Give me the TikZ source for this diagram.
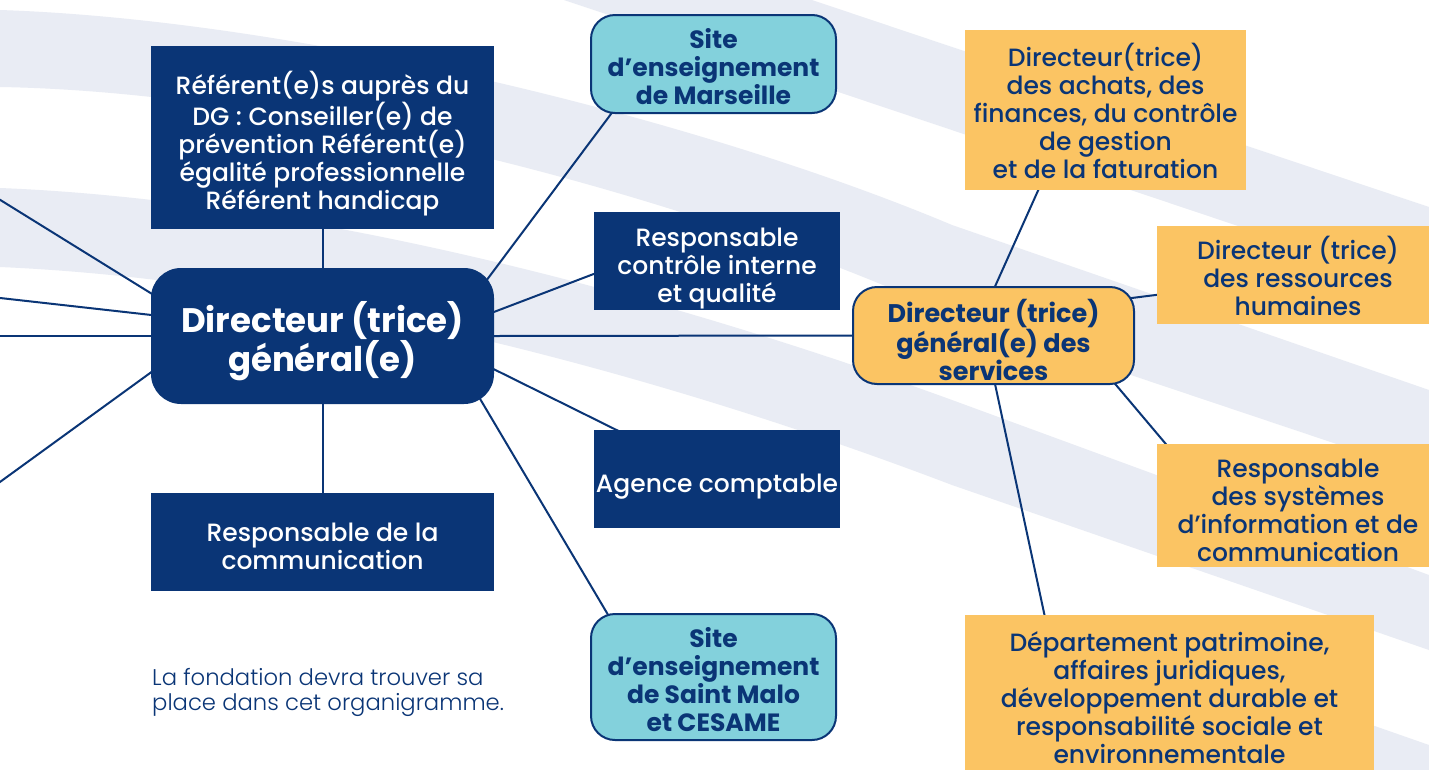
\documentclass[tikz,border=0pt]{standalone}
\usepackage{fontspec}
\setmainfont{Poppins}
\newfontfamily\lightfont{Poppins Light}
\newfontfamily\medfont{Poppins Medium}
\definecolor{dgnavy}{HTML}{0A3576}
\definecolor{sitecyan}{HTML}{83D1DC}
\definecolor{servorange}{HTML}{FBC463}
\definecolor{swoosh}{HTML}{E9ECF4}
\newcommand{\padtop}[1]{\rule{0pt}{#1}}
\pgfdeclarelayer{back}
\pgfsetlayers{back,main}
\tikzset{
	navybox/.style={fill=dgnavy,text=white,inner sep=0pt,align=center,font=\medfont\fontsize{25}{28}\selectfont},
	orangebox/.style={fill=servorange,text=dgnavy,inner sep=0pt,align=center,font=\medfont\fontsize{25}{28}\selectfont},
	sitebox/.style={draw=dgnavy,line width=2pt,fill=sitecyan,text=dgnavy,rounded corners=24pt,inner sep=0pt,align=center,font=\bfseries\fontsize{25}{28}\selectfont},
	link/.style={draw=dgnavy,line width=2pt,shorten <=-20pt,shorten >=-20pt}
}
\begin{document}
\begin{tikzpicture}[x=1pt,y=-1pt]
	\useasboundingbox (0,0) rectangle (1429,769);
	\begin{pgfonlayer}{back}
		\fill[white] (0,0) rectangle (1429,769);
		\fill[swoosh] (564,0) -- (812,0) -- (1429,207) -- (1429,290) -- cycle;
		\fill[swoosh] (0,10) .. controls (300,20) and (702,120) .. (952,225) -- (1429,390) -- (1429,475) -- (952,315) .. controls (702,200) and (300,92) .. (0,87) -- cycle;
		\fill[swoosh] (0,188) .. controls (300,200) and (650,290) .. (952,400) -- (1429,575) -- (1429,650) -- (952,485) .. controls (650,370) and (300,280) .. (0,267) -- cycle;
		\fill[swoosh] (1060,616) -- (1429,745) -- (1429,830) -- (1060,701) -- cycle;
	\end{pgfonlayer}

	\node[navybox,minimum width=343pt,minimum height=183pt] (ref) at (322.5,137.5) {\padtop{36pt}Référent(e)s auprès du\\DG : Conseiller(e) de\\prévention Référent(e)\\égalité professionnelle\\Référent handicap};
	\node[navybox,rounded corners=30pt,minimum width=343pt,minimum height=136pt,font=\bfseries\fontsize{34}{37}\selectfont] (dg) at (322.5,336) {\padtop{42pt}Directeur (trice)\\général(e)};
	\node[navybox,minimum width=343pt,minimum height=98pt] (comm) at (322.5,542) {\padtop{28pt}Responsable de la\\communication};
	\node[sitebox,minimum width=245pt,minimum height=98pt] (mars) at (713.5,64) {\padtop{26pt}Site\\d’enseignement\\de Marseille};
	\node[navybox,minimum width=246pt,minimum height=98pt] (ctrl) at (717,261) {\padtop{34pt}Responsable\\contrôle interne\\et qualité};
	\node[navybox,minimum width=246pt,minimum height=98pt] (agence) at (717,479) {\padtop{34pt}Agence comptable};
	\node[sitebox,minimum width=245pt,minimum height=126pt] (malo) at (713.5,677) {\padtop{26pt}Site\\d’enseignement\\de Saint Malo\\et CESAME};
	\node[sitebox,fill=servorange,minimum width=281pt,minimum height=97pt,font=\bfseries\fontsize{25.5}{28}\selectfont] (dgs) at (993.5,335.5) {\padtop{32pt}Directeur (trice)\\général(e) des\\services};
	\node[orangebox,minimum width=281pt,minimum height=160pt] (achats) at (1105.5,110) {\padtop{25pt}Directeur(trice)\\des achats, des\\finances, du contrôle\\de gestion\\et de la faturation};
	\node[orangebox,minimum width=282pt,minimum height=98pt] (rh) at (1298,275) {\padtop{25pt}Directeur (trice)\\des ressources\\humaines};
	\node[orangebox,minimum width=282pt,minimum height=123pt] (si) at (1298,505.5) {\padtop{28pt}Responsable\\des systèmes\\d’information et de\\communication};
	\node[orangebox,minimum width=409pt,minimum height=162pt] (patri) at (1169.5,696) {\padtop{24pt}Département patrimoine,\\affaires juridiques,\\développement durable et\\responsabilité sociale et\\environnementale};
	\node[anchor=north west,inner sep=0pt,align=left,text=dgnavy,font=\lightfont\fontsize{22.7}{25}\selectfont] (note) at (152,668) {La fondation devra trouver sa\\place dans cet organigramme.};

	\coordinate (offA) at (-40,175);
	\coordinate (offB) at (-40,293.5);
	\coordinate (offC) at (-40,336);
	\coordinate (offD) at (-40,511);

	\begin{pgfonlayer}{back}
		\draw[link] (ref) -- (dg);
		\draw[link] (dg) -- (comm);
		\draw[link] (dg.21) -- (mars.206);
		\draw[link] (dg.8) -- (ctrl.186);
		\draw[link] (dg.east) -- (dgs.west);
		\draw[link] (dg.-11) -- (agence.154);
		\draw[link] (dg.-23.5) -- (malo.149);
		\draw[link] (dgs.88) -- (achats.230);
		\draw[link] (dgs.15) -- (rh.188);
		\draw[link] (dgs.-22) -- (si.155);
		\draw[link] (dgs.-88) -- (patri.147);
		\draw[link] (dg.166) -- (offA);
		\draw[link] (dg.173) -- (offB);
		\draw[link] (dg.west) -- (offC);
		\draw[link] (dg.192) -- (offD);
	\end{pgfonlayer}
\end{tikzpicture}
\end{document}
